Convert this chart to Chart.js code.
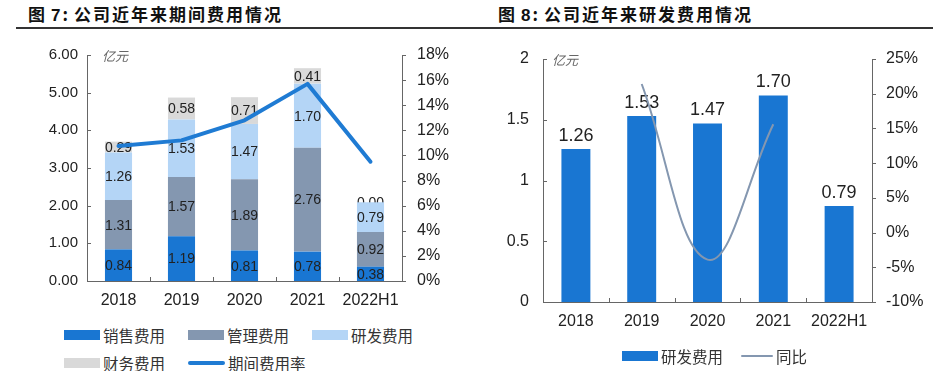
<!DOCTYPE html>
<html>
<head>
<meta charset="utf-8">
<script src="https://cdn.jsdelivr.net/npm/chart.js@4.4.1/dist/chart.umd.min.js"></script>
<style>
    body {
        margin: 0;
        background: #fff;
        width: 951px;
        height: 371px;
        position: relative;
        overflow: hidden;
        font-family: "Liberation Sans", Arial, "Noto Sans CJK SC", sans-serif;
    }
    .title {
        position: absolute;
        top: 3px;
        font: bold 17px "Noto Sans CJK SC", sans-serif;
        color: #111;
        white-space: nowrap;
        line-height: 22px;
    }
    .title .num {
        font-family: "Liberation Sans", Arial, sans-serif;
        margin-left: 6px;
        margin-right: 2px;
    }
    .title .txt {
        letter-spacing: 2px;
        margin-left: 6px;
    }
    .rule {
        position: absolute;
        top: 27px;
        left: 16px;
        width: 917px;
        height: 2px;
        background: #333;
    }
    canvas {
        position: absolute;
        top: 0;
    }
    .unit {
        position: absolute;
        font: italic 13px "Noto Sans CJK SC", sans-serif;
        color: #666;
        line-height: 14px;
    }
    .legend {
        position: absolute;
        display: flex;
        flex-wrap: wrap;
        font: 15.5px "Noto Sans CJK SC", sans-serif;
        color: #333;
    }
    .item {
        display: flex;
        align-items: center;
        height: 28px;
        white-space: nowrap;
    }
    .sw {
        margin-right: 3px;
    }
</style>
</head>
<body>
<div class="title" style="left:28px">图<span class="num">7</span>:<span class="txt">公司近年来期间费用情况</span></div>
<div class="title" style="left:498px">图<span class="num">8</span>:<span class="txt">公司近年来研发费用情况</span></div>
<div class="rule"></div>

<canvas id="c1" width="476" height="320" style="left:0"></canvas>
<canvas id="c2" width="476" height="340" style="left:475px"></canvas>

<div class="unit" style="left:102px;top:49px">亿元</div>
<div class="unit" style="left:552px;top:53px">亿元</div>

<div class="legend" id="lg1" style="left:64px;top:321px;width:372px"></div>
<div class="legend" id="lg2" style="left:622px;top:342px"></div>

<script>
// data
const years = ["2018", "2019", "2020", "2021", "2022H1"]
const salesExp = [0.84, 1.19, 0.81, 0.78, 0.38]
const adminExp = [1.31, 1.57, 1.89, 2.76, 0.92]
const rndExp = [1.26, 1.53, 1.47, 1.70, 0.79]
const finExp = [0.29, 0.58, 0.71, 0.41, 0.00]
const periodRate = [10.75, 11.2, 12.8, 15.7, 9.5]
const rndYoY = [null, 21.4, -3.9, 15.6, null]

const blue = "#1976D2"
const slate = "#8497B0"
const lightBlue = "#B4D5F6"
const grey = "#D9D9D9"

// labels on the bars
const barLabels = {
    id: "barLabels",
    afterDatasetDraw(chart, args, opts) {
        if (args.meta.type !== "bar") return
        const ctx = chart.ctx
        const ds = chart.data.datasets[args.index]
        ctx.save()
        ctx.font = opts.font
        ctx.fillStyle = opts.color
        ctx.textAlign = "center"
        args.meta.data.forEach((bar, j) => {
            const v = ds.data[j]
            if (opts.position == "center") {
                ctx.textBaseline = "middle"
                ctx.fillText(v.toFixed(2), bar.x, (bar.y + bar.base) / 2 + 1)
            } else {
                ctx.textBaseline = "bottom"
                ctx.fillText(v.toFixed(2), bar.x, bar.y - 4)
            }
        })
        ctx.restore()
    },
}

// small tick marks: y ticks to the right, x ticks upward at category edges
const axisTicks = {
    id: "axisTicks",
    afterDraw(chart) {
        const ctx = chart.ctx
        const len = 4
        ctx.save()
        ctx.strokeStyle = "#666"
        ctx.lineWidth = 1
        ctx.beginPath()
        Object.values(chart.scales).forEach((s) => {
            if (s.axis === "x") {
                for (let i = 1; i < s.ticks.length; i++) {
                    const x = Math.round(s.getPixelForValue(i - 0.5)) + 0.5
                    ctx.moveTo(x, s.top)
                    ctx.lineTo(x, s.top - len)
                }
            } else {
                const x0 = s.position === "left" ? s.right : s.left
                s.ticks.forEach((t) => {
                    const y = Math.round(s.getPixelForValue(t.value)) + 0.5
                    ctx.moveTo(x0, y)
                    ctx.lineTo(x0 + len, y)
                })
            }
        })
        ctx.stroke()
        ctx.restore()
    },
}

const tickFont = { family: "'Liberation Sans', Arial", size: 16 }

function xScale(h) {
    return {
        stacked: true,
        grid: { display: false, drawTicks: false },
        border: { display: true, color: "#666", width: 1 },
        ticks: { font: tickFont, color: "#222", padding: 10, maxRotation: 0, autoSkip: false },
        afterFit: (s) => { s.height = h },
    }
}

function yScale(pos, min, max, step, fmt, w, size, pad) {
    return {
        position: pos,
        min: min,
        max: max,
        grid: { display: false, drawTicks: false },
        border: { display: true, color: "#666", width: 1 },
        ticks: {
            stepSize: step,
            font: { family: "'Liberation Sans', Arial", size: size },
            color: "#222",
            padding: pad,
            callback: fmt,
        },
        afterFit: (s) => { s.width = w },
    }
}

function renderCostChart(canvas) {
    return new Chart(canvas.getContext("2d"), {
        type: "bar",
        data: {
            labels: years,
            datasets: [
                { label: "销售费用", data: salesExp, backgroundColor: blue, yAxisID: "y", order: 1 },
                { label: "管理费用", data: adminExp, backgroundColor: slate, yAxisID: "y", order: 1 },
                { label: "研发费用", data: rndExp, backgroundColor: lightBlue, yAxisID: "y", order: 1 },
                { label: "财务费用", data: finExp, backgroundColor: grey, yAxisID: "y", order: 1 },
                {
                    type: "line",
                    label: "期间费用率",
                    data: periodRate,
                    borderColor: "#1F7BD3",
                    borderWidth: 4,
                    borderCapStyle: "round",
                    borderJoinStyle: "round",
                    pointRadius: 0,
                    tension: 0,
                    yAxisID: "y1",
                    order: 0,
                },
            ],
        },
        options: {
            responsive: false,
            animation: false,
            layout: { padding: { top: 55, left: 0, right: 0, bottom: 0 } },
            datasets: { bar: { categoryPercentage: 1, barPercentage: 0.43, stack: "cost" } },
            plugins: {
                legend: { display: false },
                tooltip: { enabled: false },
                barLabels: { position: "center", font: "14px 'Liberation Sans', Arial", color: "#222" },
            },
            scales: {
                x: xScale(39),
                y: { ...yScale("left", 0, 6, 1, (v) => v.toFixed(2), 87, 15, 9), stacked: true },
                y1: yScale("right", 0, 18, 2, (v) => v + "%", 74, 16, 15),
            },
        },
        plugins: [barLabels, axisTicks],
    })
}

function renderRndChart(canvas) {
    return new Chart(canvas.getContext("2d"), {
        type: "bar",
        data: {
            labels: years,
            datasets: [
                { label: "研发费用", data: rndExp, backgroundColor: blue, yAxisID: "y", order: 1 },
                {
                    type: "line",
                    label: "同比",
                    data: rndYoY,
                    borderColor: slate,
                    borderWidth: 2,
                    pointRadius: 0,
                    tension: 0.4,
                    spanGaps: true,
                    yAxisID: "y1",
                    order: 0,
                },
            ],
        },
        options: {
            responsive: false,
            animation: false,
            layout: { padding: { top: 59, left: 0, right: 0, bottom: 0 } },
            datasets: { bar: { categoryPercentage: 1, barPercentage: 0.44 } },
            plugins: {
                legend: { display: false },
                tooltip: { enabled: false },
                barLabels: { position: "top", font: "18px 'Liberation Sans', Arial", color: "#222" },
            },
            scales: {
                x: { ...xScale(38), stacked: false },
                y: yScale("left", 0, 2, 0.5, (v) => String(v), 68, 16, 14),
                y1: yScale("right", -10, 25, 5, (v) => v + "%", 79, 16, 14),
            },
        },
        plugins: [barLabels, axisTicks],
    })
}

// html legend built from the chart datasets
function buildLegend(chart, el, itemWidth, lineW, lineH) {
    chart.data.datasets.forEach((ds) => {
        const item = document.createElement("div")
        item.className = "item"
        if (itemWidth) item.style.width = itemWidth + "px"
        else item.style.marginRight = "18px"
        const sw = document.createElement("span")
        sw.className = "sw"
        if (ds.type === "line") {
            sw.style.width = lineW + "px"
            sw.style.height = lineH + "px"
            sw.style.borderRadius = lineH + "px"
            sw.style.background = ds.borderColor
        } else {
            sw.style.width = "36px"
            sw.style.height = "10px"
            sw.style.background = ds.backgroundColor
        }
        const txt = document.createElement("span")
        txt.textContent = ds.label
        item.appendChild(sw)
        item.appendChild(txt)
        el.appendChild(item)
    })
}

const chart1 = renderCostChart(document.getElementById("c1"))
const chart2 = renderRndChart(document.getElementById("c2"))
buildLegend(chart1, document.getElementById("lg1"), 124, 37, 4)
buildLegend(chart2, document.getElementById("lg2"), 0, 32, 2)
</script>
</body>
</html>
